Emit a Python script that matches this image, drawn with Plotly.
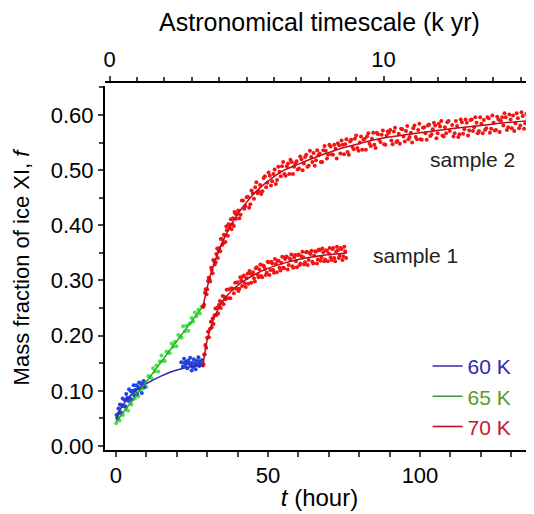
import plotly.graph_objects as go

# 60 K (blue) measured points
t_60 = [0.2, 0.5, 0.8, 1.0, 1.3, 1.6, 1.9, 2.2, 2.5, 2.8, 3.1, 3.4, 3.7, 4.0, 4.3, 4.6,
        4.9, 5.2, 5.5, 5.8, 6.1, 6.4, 6.7, 7.0, 7.3, 7.6, 7.9, 8.2, 8.5, 8.8, 9.1, 9.4,
        21.5, 22.0, 22.4, 22.8, 23.1, 23.5, 23.8, 24.1, 24.4, 24.7, 25.0, 25.3, 25.6, 25.9,
        26.2, 26.5, 26.8, 27.1, 27.4, 27.7, 28.0, 28.3, 28.6, 22.6, 24.9, 26.0, 27.2, 23.3]
f_60 = [0.056, 0.050, 0.068, 0.060, 0.075, 0.061, 0.074, 0.086, 0.072, 0.084, 0.072, 0.094,
        0.087, 0.082, 0.103, 0.087, 0.099, 0.084, 0.100, 0.110, 0.092, 0.102, 0.110, 0.094,
        0.107, 0.115, 0.104, 0.113, 0.096, 0.112, 0.118, 0.107,
        0.152, 0.144, 0.158, 0.147, 0.153, 0.141, 0.155, 0.149, 0.160, 0.146, 0.151, 0.143,
        0.157, 0.150, 0.139, 0.154, 0.148, 0.161, 0.145, 0.152, 0.149, 0.156, 0.147, 0.151,
        0.137, 0.146, 0.154, 0.150]

# 65 K (green) measured points
t_65 = [0.1, 0.7, 1.2, 1.8, 2.3, 2.9, 3.4, 4.0, 4.5, 5.1, 5.6, 6.2, 6.7, 7.3, 7.8, 8.4, 8.9,
        9.5, 10.0, 10.6, 11.1, 11.7, 12.2, 12.8, 13.3, 13.9, 14.4, 15.0, 15.5, 16.1, 16.6,
        17.2, 17.7, 18.3, 18.8, 19.4, 19.9, 20.5, 21.0, 21.6, 22.1, 22.7, 23.2, 23.8, 24.3,
        24.9, 25.4, 26.0, 26.5, 27.1, 27.6, 28.2]
f_65 = [0.041, 0.053, 0.046, 0.058, 0.056, 0.071, 0.066, 0.064, 0.080, 0.075, 0.093, 0.086,
        0.098, 0.090, 0.102, 0.115, 0.104, 0.116, 0.107, 0.127, 0.126, 0.123, 0.141, 0.135,
        0.146, 0.135, 0.153, 0.164, 0.154, 0.154, 0.171, 0.171, 0.168, 0.186, 0.180, 0.189,
        0.181, 0.201, 0.200, 0.196, 0.217, 0.208, 0.218, 0.209, 0.222, 0.232, 0.225, 0.242,
        0.235, 0.247, 0.240, 0.253]

# 70 K sample 1 (red) measured points
t_70s1 = [28.6, 28.8, 29.0, 29.2, 29.4, 29.7, 30.0, 30.3, 30.6, 30.9, 31.2, 31.5, 31.8, 32.1,
          32.4, 32.7, 33.0, 33.3, 33.6, 33.9, 34.2, 34.5, 34.8, 35.1, 35.4, 35.7, 36.0, 36.4,
          36.8, 37.2, 37.6, 38.0, 38.4, 38.8, 39.2, 39.6,
          40.0, 40.6, 41.2, 41.8, 42.4, 43.0, 43.6, 44.2, 44.8, 45.4, 46.0, 46.6, 47.2, 47.8,
          48.4, 49.0, 49.6, 50.2, 50.8, 51.4, 52.0, 52.6, 53.2, 53.8, 54.4, 55.0, 55.6, 56.2,
          56.8, 57.4, 58.0, 58.6, 59.2, 59.8, 60.4, 61.0, 61.6, 62.2, 62.8, 63.4, 64.0, 64.6,
          65.2, 65.8, 66.4, 67.0, 67.6, 68.2, 68.8, 69.4, 70.0, 70.6, 71.2, 71.8, 72.4, 73.0,
          73.6, 74.2, 74.8, 75.4,
          40.3, 40.9, 41.5, 42.1, 42.7, 43.3, 43.9, 44.5, 45.1, 45.7, 46.3, 46.9, 47.5, 48.1,
          48.7, 49.3, 49.9, 50.5, 51.1, 51.7, 52.3, 52.9, 53.5, 54.1, 54.7, 55.3, 55.9, 56.5,
          57.1, 57.7, 58.3, 58.9, 59.5, 60.1, 60.7, 61.3, 61.9, 62.5, 63.1, 63.7, 64.3, 64.9,
          65.5, 66.1, 66.7, 67.3, 67.9, 68.5, 69.1, 69.7, 70.3, 70.9, 71.5, 72.1, 72.7, 73.3,
          73.9, 74.5, 75.1, 75.7]
f_70s1 = [0.146, 0.148, 0.166, 0.166, 0.183, 0.178, 0.196, 0.207, 0.197, 0.212, 0.225, 0.215,
          0.231, 0.221, 0.237, 0.249, 0.237, 0.251, 0.240, 0.256, 0.263, 0.250, 0.261, 0.272,
          0.257, 0.270, 0.266, 0.283, 0.268, 0.284, 0.268, 0.286, 0.285, 0.277, 0.296, 0.285,
          0.297, 0.285, 0.300, 0.307, 0.295, 0.304, 0.294, 0.313, 0.311, 0.304, 0.322, 0.311,
          0.320, 0.308, 0.327, 0.321, 0.314, 0.333, 0.319, 0.331, 0.314, 0.330, 0.336, 0.323,
          0.332, 0.323, 0.339, 0.343, 0.328, 0.338, 0.326, 0.342, 0.335, 0.346, 0.328, 0.344,
          0.342, 0.333, 0.352, 0.337, 0.348, 0.334, 0.345, 0.352, 0.338, 0.355, 0.342, 0.351,
          0.338, 0.354, 0.349, 0.342, 0.357, 0.341, 0.352, 0.355, 0.345, 0.357, 0.344, 0.353,
          0.281, 0.306, 0.290, 0.309, 0.288, 0.312, 0.317, 0.296, 0.315, 0.298, 0.324, 0.306,
          0.329, 0.306, 0.326, 0.310, 0.334, 0.310, 0.334, 0.319, 0.339, 0.315, 0.336, 0.318,
          0.343, 0.322, 0.343, 0.320, 0.340, 0.347, 0.323, 0.346, 0.324, 0.347, 0.331, 0.352,
          0.329, 0.351, 0.328, 0.350, 0.354, 0.331, 0.353, 0.331, 0.356, 0.336, 0.358, 0.335,
          0.355, 0.335, 0.359, 0.337, 0.359, 0.335, 0.361, 0.341, 0.359, 0.337, 0.361, 0.341]

# 70 K sample 2 (red) measured points
t_70s2 = [28.5, 29.0, 29.5, 30.0, 30.5, 31.0, 31.5, 32.0, 32.5, 33.0, 33.5, 34.0, 34.5, 35.0,
          35.5, 36.0, 36.5, 37.0, 37.5, 38.0, 38.5, 39.0, 39.5,
          28.8, 29.3, 29.8, 30.3, 30.8, 31.3, 31.8, 32.3, 32.8, 33.3, 33.8, 34.3, 34.8, 35.3,
          35.8, 36.3, 36.8, 37.3, 37.8, 38.3, 38.8, 39.3, 39.8,
          40.2, 41.0, 41.8, 42.6, 43.4, 44.2, 45.0, 45.8, 46.6, 47.4, 48.2, 49.0, 49.8,
          50.6, 51.4, 52.2, 53.0, 53.8, 54.6, 55.4, 56.2, 57.0, 57.8, 58.6, 59.4,
          60.2, 61.0, 61.8, 62.6, 63.4, 64.2, 65.0, 65.8, 66.6, 67.4, 68.2, 69.0, 69.8, 70.6,
          71.4, 72.2, 73.0, 73.8, 74.6,
          75.4, 76.2, 77.0, 77.8, 78.6, 79.4, 80.2, 81.0, 81.8, 82.6, 83.4, 84.2, 85.0, 85.8,
          86.6, 87.4, 88.2, 89.0, 89.8,
          90.6, 91.4, 92.2, 93.0, 93.8, 94.6, 95.4, 96.2, 97.0, 97.8, 98.6, 99.4, 100.2, 101.0,
          101.8, 102.6, 103.4, 104.2, 105.0, 105.8, 106.6, 107.4, 108.2, 109.0, 109.8,
          110.6, 111.4, 112.2, 113.0, 113.8, 114.6, 115.4, 116.2, 117.0, 117.8, 118.6, 119.4,
          120.2, 121.0, 121.8, 122.6, 123.4, 124.2, 125.0, 125.8, 126.6, 127.4, 128.2, 129.0,
          129.8, 130.6, 131.4, 132.2, 133.0, 133.8, 134.6, 135.4, 136.2,
          40.6, 41.4, 42.2, 43.0, 43.8, 44.6, 45.4, 46.2, 47.0, 47.8, 48.6, 49.4,
          50.2, 51.0, 51.8, 52.6, 53.4, 54.2, 55.0, 55.8, 56.6, 57.4, 58.2, 59.0, 59.8,
          60.6, 61.4, 62.2, 63.0, 63.8, 64.6, 65.4, 66.2, 67.0, 67.8, 68.6, 69.4, 70.2, 71.0,
          71.8, 72.6, 73.4, 74.2, 75.0,
          75.8, 76.6, 77.4, 78.2, 79.0, 79.8, 80.6, 81.4, 82.2, 83.0, 83.8, 84.6, 85.4, 86.2,
          87.0, 87.8, 88.6, 89.4,
          90.2, 91.0, 91.8, 92.6, 93.4, 94.2, 95.0, 95.8, 96.6, 97.4, 98.2, 99.0, 99.8, 100.6,
          101.4, 102.2, 103.0, 103.8, 104.6, 105.4, 106.2, 107.0, 107.8, 108.6, 109.4,
          111.0, 111.8, 112.6, 113.4, 114.2, 115.0, 115.8, 116.6, 117.4, 118.2, 119.0, 119.8,
          120.6, 121.4, 122.2, 123.0, 123.8, 124.6, 125.4, 126.2, 127.0, 127.8, 128.6, 129.4,
          130.2, 131.0, 131.8, 132.6, 133.4, 134.2, 135.0, 135.8, 136.6]
f_70s2 = [0.252, 0.256, 0.284, 0.284, 0.305, 0.298, 0.319, 0.337, 0.329, 0.348, 0.341, 0.359,
          0.375, 0.365, 0.383, 0.370, 0.391, 0.402, 0.395, 0.393, 0.413, 0.424, 0.412,
          0.253, 0.278, 0.275, 0.299, 0.302, 0.323, 0.313, 0.335, 0.333, 0.358, 0.354, 0.353,
          0.375, 0.368, 0.382, 0.398, 0.381, 0.401, 0.411, 0.402, 0.399, 0.421, 0.420,
          0.427, 0.419, 0.445, 0.435, 0.452, 0.438, 0.458, 0.469, 0.458, 0.473, 0.462, 0.489, 0.477,
          0.490, 0.480, 0.501, 0.482, 0.497, 0.507, 0.493, 0.507, 0.493, 0.515, 0.506, 0.516,
          0.503, 0.520, 0.512, 0.528, 0.508, 0.524, 0.531, 0.518, 0.527, 0.515, 0.536, 0.535,
          0.528, 0.543, 0.528, 0.539, 0.549, 0.530, 0.546,
          0.547, 0.533, 0.552, 0.542, 0.557, 0.540, 0.550, 0.537, 0.557, 0.561, 0.548, 0.557,
          0.546, 0.568, 0.555, 0.564, 0.547, 0.563, 0.568,
          0.554, 0.570, 0.551, 0.566, 0.575, 0.561, 0.571, 0.556, 0.568, 0.576, 0.560, 0.573,
          0.556, 0.577, 0.567, 0.581, 0.562, 0.574, 0.581, 0.567, 0.579, 0.563, 0.578, 0.587, 0.571,
          0.582, 0.567, 0.580, 0.565, 0.587, 0.574, 0.586, 0.572, 0.592, 0.578, 0.586, 0.571,
          0.584, 0.591, 0.576, 0.594, 0.575, 0.586, 0.573, 0.592, 0.589, 0.581, 0.596, 0.578,
          0.592, 0.599, 0.585, 0.594, 0.581, 0.598, 0.585, 0.592, 0.598,
          0.413, 0.445, 0.430, 0.451, 0.432, 0.463, 0.448, 0.478, 0.462, 0.457, 0.486, 0.469,
          0.496, 0.472, 0.493, 0.475, 0.506, 0.489, 0.515, 0.490, 0.512, 0.519, 0.493, 0.512, 0.501,
          0.525, 0.500, 0.524, 0.506, 0.535, 0.515, 0.508, 0.536, 0.530, 0.515, 0.544, 0.521,
          0.546, 0.529, 0.546, 0.521, 0.545, 0.554, 0.529,
          0.556, 0.528, 0.555, 0.538, 0.563, 0.535, 0.561, 0.555, 0.537, 0.567, 0.544, 0.568,
          0.540, 0.565, 0.551, 0.572, 0.546, 0.570,
          0.573, 0.547, 0.577, 0.553, 0.548, 0.574, 0.552, 0.580, 0.560, 0.550, 0.581, 0.556,
          0.584, 0.555, 0.578, 0.555, 0.583, 0.565, 0.586, 0.558, 0.584, 0.589, 0.561, 0.567, 0.589,
          0.561, 0.589, 0.560, 0.592, 0.566, 0.592, 0.563, 0.591, 0.571, 0.596, 0.567, 0.596,
          0.567, 0.573, 0.596, 0.568, 0.599, 0.572, 0.597, 0.569, 0.596, 0.603, 0.573, 0.601,
          0.576, 0.571, 0.603, 0.576, 0.605, 0.575, 0.602, 0.579, 0.606]

# fitted curves
fit_t_60 = [0, 1, 2, 3, 4, 6, 8, 10, 12, 15, 18, 21, 24, 27, 28.6]
fit_f_60 = [0.050, 0.062, 0.072, 0.080, 0.087, 0.098, 0.106, 0.113, 0.119, 0.127, 0.134,
            0.139, 0.143, 0.146, 0.147]
fit_t_65 = [0, 10, 20, 28.6]
fit_f_65 = [0.043, 0.116, 0.190, 0.253]
fit_t_s1 = [28.6, 29, 29.5, 30, 31, 32, 33, 34, 35, 36, 38, 40, 42, 45, 50, 55, 60, 65, 70, 76]
fit_f_s1 = [0.143, 0.160, 0.178, 0.192, 0.212, 0.228, 0.241, 0.252, 0.261, 0.269, 0.281,
            0.291, 0.299, 0.309, 0.322, 0.331, 0.338, 0.343, 0.347, 0.350]
fit_t_s2 = [28.6, 29, 30, 31, 32, 33, 34, 35, 36, 38, 40, 42, 45, 48, 50, 55, 60, 65, 70, 75,
            80, 85, 90, 100, 110, 120, 130, 137]
fit_f_s2 = [0.250, 0.262, 0.287, 0.308, 0.326, 0.342, 0.356, 0.369, 0.381, 0.402, 0.420,
            0.435, 0.455, 0.471, 0.480, 0.499, 0.511, 0.522, 0.532, 0.541, 0.548, 0.555,
            0.560, 0.568, 0.575, 0.581, 0.587, 0.590]

labels = ['sample 1', 'sample 2']
label_t = [98.4, 117.3]
label_f = [0.346, 0.520]

font = 'Arial, Liberation Sans, sans-serif'
red_pts = '#f41414'
red_line = '#b80c1c'

fig = go.Figure()

def pts(x, y, color):
    return go.Scatter(x=x, y=y, mode='markers', showlegend=False, hoverinfo='none',
                      marker=dict(size=4, color=color, line=dict(width=0)))

fig.add_trace(pts(t_65, f_65, '#45e545'))
fig.add_trace(pts(t_60, f_60, '#2244e0'))
fig.add_trace(pts(t_70s1, f_70s1, red_pts))
fig.add_trace(pts(t_70s2, f_70s2, red_pts))

fig.add_trace(go.Scatter(x=fit_t_60, y=fit_f_60, mode='lines', line_shape='spline',
                         line=dict(color='#2a2ab0', width=1.5),
                         name="<span style='color:#2a2ab5'>60 K</span>"))
fig.add_trace(go.Scatter(x=fit_t_65, y=fit_f_65, mode='lines',
                         line=dict(color='#3a9a3a', width=1.5),
                         name="<span style='color:#5a9a2a'>65 K</span>"))
fig.add_trace(go.Scatter(x=fit_t_s2, y=fit_f_s2, mode='lines', line_shape='spline',
                         line=dict(color=red_line, width=1.5),
                         name="<span style='color:#c0202a'>70 K</span>"))
fig.add_trace(go.Scatter(x=fit_t_s1, y=fit_f_s1, mode='lines', line_shape='spline',
                         line=dict(color=red_line, width=1.5), showlegend=False))
# empty trace so the top axis is drawn
fig.add_trace(go.Scatter(x=[], y=[], xaxis='x2', showlegend=False))

for i in range(len(labels)):
    fig.add_annotation(x=label_t[i], y=label_f[i], text=labels[i], showarrow=False,
                       font=dict(size=21, color='#222222', family=font))

# page body has an 8px margin, so the figure is 8px smaller each way
fig.update_layout(
    width=526, height=506,
    margin=dict(l=97, r=0, t=74, b=64),
    plot_bgcolor='white', paper_bgcolor='white',
    font=dict(family=font, color='black'),
    xaxis=dict(range=[-3.6, 137.5], showline=True, linewidth=2, linecolor='black',
               ticks='outside', tickwidth=2, ticklen=5, tick0=0, dtick=50,
               minor=dict(dtick=10, ticks='outside', ticklen=5, tickwidth=2),
               showgrid=False, zeroline=False, tickfont=dict(size=22), automargin=False,
               title=dict(text='<i>t</i> (hour)', font=dict(size=24), standoff=2)),
    xaxis2=dict(overlaying='x', side='top', anchor='free', position=1,
                range=[-0.17, 15.49], showline=True, linewidth=2, linecolor='black',
                ticks='outside', tickwidth=2, ticklen=5, tick0=0, dtick=10,
                minor=dict(dtick=1, ticks='outside', ticklen=4, tickwidth=2),
                showgrid=False, zeroline=False, tickfont=dict(size=22), automargin=False,
                title=dict(text='Astronomical timescale (k yr)', font=dict(size=25), standoff=8)),
    yaxis=dict(range=[-0.0073, 0.6525], domain=[0, 0.989], showline=True, linewidth=2,
               linecolor='black', ticks='outside', tickwidth=2, ticklen=5, tick0=0,
               dtick=0.1, tickformat='.2f', automargin=False,
               minor=dict(dtick=0.05, ticks='outside', ticklen=4, tickwidth=2),
               showgrid=False, zeroline=False, tickfont=dict(size=22),
               title=dict(text='Mass fraction of ice XI, <i>f</i>', font=dict(size=22), standoff=15)),
    legend=dict(x=0.752, y=0.283, xanchor='left', yanchor='top', bgcolor='rgba(0,0,0,0)',
                font=dict(size=21), tracegroupgap=0),
)

fig.write_html("out.html")
